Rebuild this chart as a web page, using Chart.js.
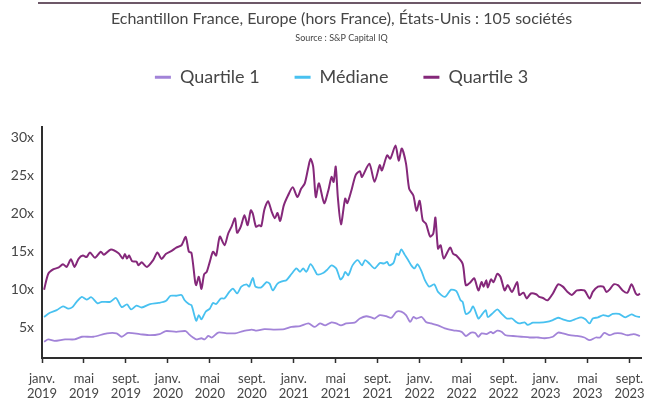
<!DOCTYPE html>
<html>
<head>
<meta charset="utf-8">
<script src="https://cdn.jsdelivr.net/npm/chart.js@4/dist/chart.umd.min.js"></script>
<style>
  html, body { margin: 0; padding: 0; background: #fff; }
</style>
</head>
<body>
<canvas id="myChart" width="656" height="402"></canvas>
<script>
// months since janv. 2019
var tickMonths = [0, 4, 8, 12, 16, 20, 24, 28, 32, 36, 40, 44, 48, 52, 56];
var tickMonthNames = ['janv.', 'mai', 'sept.', 'janv.', 'mai', 'sept.', 'janv.', 'mai', 'sept.', 'janv.', 'mai', 'sept.', 'janv.', 'mai', 'sept.'];
var tickYears = ['2019', '2019', '2019', '2020', '2020', '2020', '2021', '2021', '2021', '2022', '2022', '2022', '2023', '2023', '2023'];
var yTicks = [5, 10, 15, 20, 25, 30];

var titleText = 'Echantillon France, Europe (hors France), États-Unis : 105 sociétés';
var sourceText = 'Source : S&P Capital IQ';
var seriesNames = ['Quartile 1', 'Médiane', 'Quartile 3'];

var q1Months = [0.2, 0.6, 1.2, 2.2, 3.1, 3.8, 4.9, 6.2, 7.1, 7.6, 8.2, 9.3, 10.3, 11.2, 11.8, 12.8, 13.7, 14.0, 14.4, 14.7,
  15.2, 15.5, 15.85, 16.2, 16.8, 17.6, 18.4, 19.2, 20.0, 20.45, 21.2, 22.2, 23.1, 23.8, 24.6, 25.4, 26.0, 26.5, 27.0, 27.6,
  28.05, 28.5, 29.0, 29.8, 30.3, 30.9, 31.4, 31.7, 32.2, 32.8, 33.3, 33.8, 34.25, 34.7, 35.1, 35.4, 35.7, 36.2, 36.6, 37.1,
  37.75, 38.4, 39.2, 40.0, 40.4, 40.9, 41.3, 41.6, 41.9, 42.35, 42.8, 43.0, 43.4, 43.8, 44.2, 44.9, 45.7, 46.5, 47.3, 47.9,
  48.7, 49.2, 49.65, 50.3, 51.0, 51.7, 52.2, 52.8, 53.2, 53.6, 54.1, 54.6, 55.2, 55.8, 56.4, 57.0];
var q1Values = [3.15, 3.45, 3.25, 3.45, 3.45, 3.8, 3.8, 4.25, 4.25, 3.8, 4.3, 4.15, 4.0, 4.15, 4.55, 4.45, 4.55, 4.15, 3.7, 3.45,
  3.6, 3.45, 3.9, 3.7, 4.35, 4.25, 4.25, 4.55, 4.75, 4.6, 4.8, 4.75, 4.8, 5.1, 5.2, 5.55, 5.1, 5.55, 5.3, 5.7,
  5.55, 5.3, 5.55, 5.65, 6.2, 6.5, 6.35, 6.2, 6.65, 6.5, 6.3, 7.1, 7.1, 6.65, 5.75, 6.4, 6.2, 6.4, 5.75, 5.55,
  5.3, 4.9, 4.65, 4.45, 3.9, 4.35, 4.3, 3.8, 4.25, 4.15, 4.45, 4.25, 4.6, 4.45, 4.0, 3.9, 3.8, 3.7, 3.7, 3.6,
  3.8, 4.35, 4.25, 4.0, 3.9, 3.7, 3.35, 3.7, 3.7, 4.3, 4.0, 4.25, 4.25, 4.0, 4.15, 3.9];

var medMonths = [0.2, 0.75, 1.4, 2.0, 2.5, 2.9, 3.3, 3.8, 4.25, 4.7, 5.3, 5.7, 6.5, 7.05, 7.6, 8.1, 8.5, 9.0, 9.5, 10.3,
  11.1, 11.8, 12.25, 12.8, 13.3, 13.6, 14.0, 14.25, 14.7, 14.95, 15.2, 15.6, 16.0, 16.3, 16.6, 17.05, 17.4, 17.85, 18.2, 18.6,
  19.0, 19.5, 19.75, 20.1, 20.35, 20.9, 21.4, 21.7, 22.0, 22.45, 22.9, 23.3, 23.8, 24.25, 24.6, 24.9, 25.2, 25.6, 26.0, 26.25,
  26.8, 27.2, 27.6, 28.05, 28.45, 28.7, 28.9, 29.2, 29.6, 30.1, 30.5, 30.8, 31.2, 31.7, 32.2, 32.6, 32.9, 33.1, 33.5, 33.8,
  34.0, 34.25, 34.6, 34.9, 35.2, 35.5, 35.8, 36.2, 36.5, 36.9, 37.4, 37.75, 38.4, 39.0, 39.5, 39.9, 40.1, 40.4, 40.8, 41.1,
  41.6, 41.9, 42.3, 42.5, 43.0, 43.4, 43.8, 44.3, 44.8, 45.2, 45.5, 46.0, 46.3, 46.8, 47.4, 48.1, 48.7, 49.2, 49.65, 50.3,
  50.8, 51.4, 51.8, 52.2, 52.5, 53.0, 53.5, 54.0, 54.4, 55.0, 55.6, 56.2, 56.6, 57.0];
var medValues = [6.4, 6.95, 7.3, 7.8, 7.5, 7.7, 8.4, 9.05, 8.7, 9.0, 8.2, 8.4, 8.4, 8.9, 7.7, 8.05, 7.4, 7.9, 7.65, 8.1,
  8.25, 8.5, 9.2, 9.2, 9.3, 8.6, 8.1, 7.95, 5.9, 6.65, 6.1, 7.1, 7.5, 8.25, 8.1, 8.85, 8.85, 9.7, 10.15, 9.5,
  10.4, 10.7, 10.4, 11.55, 10.4, 10.3, 11.0, 10.8, 9.9, 10.8, 11.1, 11.25, 12.1, 12.8, 12.35, 12.8, 12.35, 13.35, 12.55, 12.0,
  12.2, 12.65, 13.2, 12.8, 11.35, 11.7, 12.35, 11.9, 13.2, 13.9, 13.2, 13.9, 13.45, 12.8, 13.5, 13.45, 13.65, 13.2, 13.5, 14.75,
  14.55, 15.3, 14.55, 13.9, 13.2, 12.8, 13.35, 12.35, 11.25, 10.4, 10.7, 9.7, 9.05, 10.0, 9.8, 8.6, 8.4, 6.8, 7.1, 7.8,
  6.2, 6.65, 7.3, 6.4, 6.95, 7.4, 6.85, 6.2, 6.2, 5.75, 5.55, 5.7, 5.35, 5.65, 5.65, 5.75, 6.0, 6.3, 6.1, 5.85,
  6.1, 6.35, 6.1, 5.55, 6.2, 6.35, 6.65, 6.5, 6.8, 6.8, 6.35, 6.75, 6.5, 6.4];

var q3Months = [0.2, 0.6, 1.1, 1.55, 2.0, 2.35, 2.76, 3.1, 3.5, 3.9, 4.25, 4.57, 5.05, 5.6, 5.9, 6.57, 7.3, 7.7, 7.9, 8.1,
  8.3, 8.6, 9.0, 9.2, 9.5, 10.0, 10.6, 11.0, 11.4, 11.8, 12.35, 12.8, 13.3, 13.7, 14.0, 14.25, 14.6, 14.7, 14.95, 15.2,
  15.45, 15.7, 16.0, 16.3, 16.6, 16.95, 17.4, 17.75, 18.07, 18.4, 18.6, 18.95, 19.3, 19.6, 19.9, 20.1, 20.4, 20.7, 20.9, 21.2,
  21.55, 21.9, 22.2, 22.45, 22.7, 23.05, 23.45, 23.9, 24.35, 24.7, 25.05, 25.4, 25.6, 25.85, 26.1, 26.4, 26.9, 27.3, 27.6, 27.8,
  28.0, 28.2, 28.5, 28.9, 29.1, 29.5, 29.9, 30.3, 30.5, 31.2, 31.7, 32.2, 32.4, 32.9, 33.2, 33.7, 34.0, 34.3, 34.7, 35.0,
  35.4, 35.7, 36.0, 36.3, 36.6, 37.0, 37.3, 37.5, 37.75, 38.0, 38.3, 38.9, 39.2, 39.5, 40.1, 40.4, 40.8, 41.2, 41.6, 41.9,
  42.1, 42.35, 42.5, 42.8, 43.05, 43.4, 43.7, 44.1, 44.4, 44.8, 45.3, 45.5, 45.9, 46.2, 46.6, 47.1, 47.4, 47.75, 48.2, 48.7,
  49.2, 49.65, 50.1, 50.5, 51.0, 51.7, 52.2, 52.5, 53.0, 53.5, 53.8, 54.1, 54.5, 54.9, 55.35, 55.8, 56.2, 56.6, 56.8, 57.0];
var q3Values = [10.0, 12.1, 12.7, 12.9, 13.35, 13.0, 14.0, 13.0, 14.1, 14.5, 14.3, 14.9, 14.2, 15.0, 14.6, 15.3, 14.8, 14.1, 14.7, 14.1,
  14.5, 13.75, 13.7, 13.2, 13.6, 13.0, 13.9, 14.9, 14.05, 14.7, 15.1, 15.55, 15.85, 16.95, 15.0, 14.85, 11.0, 10.6, 11.7, 10.1,
  12.0, 12.35, 13.7, 15.0, 14.5, 17.0, 15.85, 17.4, 18.3, 19.4, 17.5, 18.3, 19.8, 18.5, 20.45, 20.0, 18.3, 18.5, 18.35, 20.55,
  21.65, 20.25, 19.4, 20.1, 19.05, 21.1, 22.4, 23.5, 22.2, 23.3, 24.0, 26.2, 27.25, 26.2, 22.2, 24.0, 21.4, 23.1, 24.85, 24.2,
  26.2, 22.2, 18.6, 22.0, 21.4, 23.1, 25.1, 25.6, 24.85, 26.6, 24.2, 26.4, 25.7, 27.7, 27.25, 29.0, 27.0, 28.6, 26.6, 23.3,
  22.4, 20.4, 21.7, 19.1, 18.7, 17.0, 17.4, 19.5, 15.4, 15.85, 14.1, 15.55, 14.7, 14.5, 13.4, 10.6, 10.9, 11.5, 9.9, 11.0,
  10.4, 11.25, 10.3, 11.35, 11.0, 12.1, 11.7, 9.9, 10.6, 9.7, 11.0, 9.3, 9.6, 8.85, 9.5, 9.4, 9.05, 8.9, 8.6, 9.5,
  10.7, 10.4, 9.7, 9.3, 9.9, 9.9, 8.85, 9.7, 10.4, 10.4, 9.7, 10.0, 10.7, 10.6, 9.9, 9.6, 10.7, 9.5, 9.3, 9.5];

var textColor = '#464646';
var axisColor = '#2e2e2e';
var fontFamily = 'Lato, "Open Sans", sans-serif';

function points(months, values) {
  return months.map(function (m, i) { return {x: m, y: values[i]}; });
}

// room between the legend and the plot, and the source line + top rule
var extras = {
  id: 'extras',
  afterInit: function (chart) {
    var fit = chart.legend.fit;
    chart.legend.fit = function () {
      fit.call(this);
      this.height += 31;
    };
  },
  afterDraw: function (chart) {
    var ctx = chart.ctx, area = chart.chartArea;
    ctx.save();
    ctx.strokeStyle = '#6d5868';
    ctx.lineWidth = 2;
    ctx.beginPath();
    ctx.moveTo(area.left - 4, 3);
    ctx.lineTo(area.right, 3);
    ctx.stroke();
    ctx.fillStyle = textColor;
    ctx.font = '9px ' + fontFamily;
    ctx.textAlign = 'center';
    ctx.textBaseline = 'middle';
    ctx.fillText(sourceText, (area.left + area.right) / 2, 38);
    ctx.restore();
  }
};

var ctx = document.getElementById('myChart');
var myChart = new Chart(ctx, {
  type: 'line',
  data: {
    datasets: [{
      label: seriesNames[0],
      data: points(q1Months, q1Values),
      borderColor: '#a283d8',
      backgroundColor: '#a283d8',
      borderWidth: 1.8
    }, {
      label: seriesNames[1],
      data: points(medMonths, medValues),
      borderColor: '#48c1f0',
      backgroundColor: '#48c1f0',
      borderWidth: 1.8
    }, {
      label: seriesNames[2],
      data: points(q3Months, q3Values),
      borderColor: '#85287a',
      backgroundColor: '#85287a',
      borderWidth: 2
    }]
  },
  options: {
    responsive: false,
    animation: false,
    devicePixelRatio: 1,
    elements: {
      point: { radius: 0 },
      line: { tension: 0.25 }
    },
    layout: {
      padding: { left: 0, right: 15, top: 0, bottom: 0 }
    },
    scales: {
      x: {
        type: 'linear',
        min: 0,
        max: 57.1,
        afterBuildTicks: function (scale) {
          scale.ticks = tickMonths.map(function (v) { return {value: v}; });
        },
        afterFit: function (scale) {
          scale.height = 44;
        },
        ticks: {
          autoSkip: false,
          maxRotation: 0,
          padding: 9,
          color: textColor,
          font: { family: fontFamily, size: 13, lineHeight: 1.1 },
          callback: function (value) {
            var i = tickMonths.indexOf(value);
            return [tickMonthNames[i], tickYears[i]];
          }
        },
        grid: {
          drawOnChartArea: false,
          drawTicks: true,
          tickLength: 5,
          tickColor: axisColor,
          tickWidth: 1.5,
          color: axisColor
        },
        border: { display: true, color: axisColor, width: 2 }
      },
      y: {
        min: 1,
        max: 31.4,
        afterBuildTicks: function (scale) {
          scale.ticks = yTicks.map(function (v) { return {value: v}; });
        },
        afterFit: function (scale) {
          scale.width = 42;
        },
        ticks: {
          padding: 8,
          color: textColor,
          font: { family: fontFamily, size: 14 },
          callback: function (value) { return value + 'x'; }
        },
        grid: { drawOnChartArea: false, drawTicks: false },
        border: { display: true, color: axisColor, width: 2 }
      }
    },
    plugins: {
      title: {
        display: true,
        text: titleText,
        fullSize: false,
        color: textColor,
        font: { family: fontFamily, size: 16, weight: 'normal' },
        padding: { top: 9, bottom: 5 }
      },
      legend: {
        display: true,
        fullSize: false,
        labels: {
          boxWidth: 16,
          boxHeight: 3,
          padding: 35,
          color: textColor,
          font: { family: fontFamily, size: 18 },
          generateLabels: function (chart) {
            return Chart.defaults.plugins.legend.labels.generateLabels(chart).map(function (item) {
              item.lineWidth = 0;
              return item;
            });
          }
        }
      },
      tooltip: { enabled: false }
    }
  },
  plugins: [extras]
});
</script>
</body>
</html>
